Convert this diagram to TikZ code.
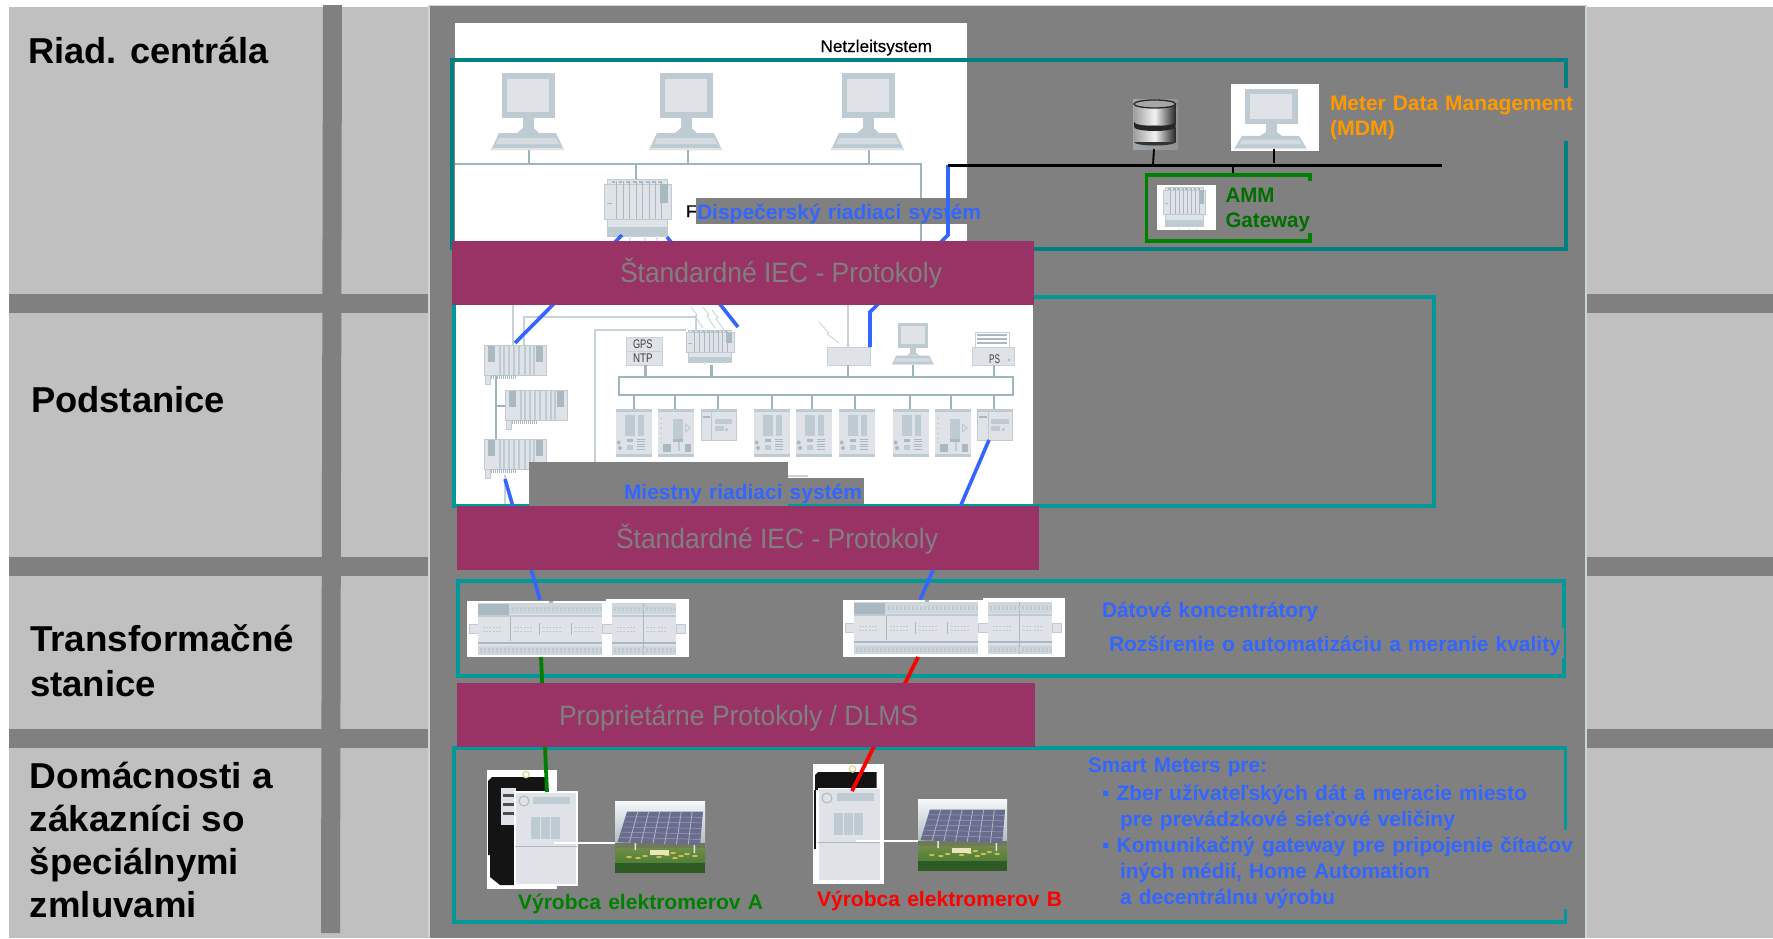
\documentclass[tikz,border=0pt]{standalone}
\usepackage{fontspec}
\usepackage{graphicx}
\setmainfont{Liberation Sans}
\newfontfamily\semifont[FakeBold=0.35]{Liberation Sans}
\usetikzlibrary{calc}
\definecolor{panelgray}{HTML}{808080}
\definecolor{sidegray}{HTML}{C0C0C0}
\definecolor{edgegray}{HTML}{CBD5D8}
\definecolor{burg}{HTML}{993366}
\definecolor{tealA}{HTML}{008080}
\definecolor{tealB}{HTML}{009999}
\definecolor{wireblue}{HTML}{3366FF}
\definecolor{wiregreen}{HTML}{008000}
\definecolor{textgreen}{HTML}{006F00}
\definecolor{mdmorange}{HTML}{FF9900}
\definecolor{devbody}{HTML}{DFE3E7}
\definecolor{devdark}{HTML}{BFCBD3}
\definecolor{devmid}{HTML}{A9B8C1}
\definecolor{netline}{HTML}{9DB6B9}
\definecolor{lightline}{HTML}{C6D2D8}
\definecolor{grassA}{HTML}{6F8C48}
\definecolor{grassB}{HTML}{4F7F35}
\definecolor{grassC}{HTML}{2F5A24}
\definecolor{treeline}{HTML}{6F7A58}
\definecolor{pvpanel}{HTML}{6A6C8E}
\definecolor{pvgrid}{HTML}{B4B8C8}
\definecolor{flower}{HTML}{C8C050}
\tikzset{
  lab/.style={anchor=base west,inner sep=0pt,outer sep=0pt},
  frameA/.style={draw=tealA,line width=3.6pt,line cap=butt,miter limit=10},
  frameB/.style={draw=tealB,line width=3.6pt,line cap=butt},
  bluewire/.style={draw=wireblue,line width=3.6pt},
  greenwire/.style={draw=wiregreen,line width=3.8pt},
  redwire/.style={draw=red,line width=3.8pt},
  blackwire/.style={draw=black,line width=3pt},
  net/.style={draw=netline,line width=2.2pt},
  lnet/.style={draw=lightline,line width=2.4pt},
  pics/pcicon/.style={code={
    \fill[devdark] (0,0) rectangle (52.5,45);
    \fill[devbody] (5,6) rectangle (47,39);
    \fill[devdark] (21,45) rectangle (31.5,57);
    \fill[devdark] (15,60) -- (21,55) -- (31.5,55) -- (37,60) -- cycle;
    \fill[devdark] (-3,60) -- (54,60) -- (62,77) -- (-11,77) -- cycle;
    \fill[devbody!70!devdark] (-3,65) -- (54,65) -- (57,71) -- (-6,71) -- cycle;
    \fill[devbody] (-10.5,75) rectangle (61.5,77);
  }},
  pics/plcicon/.style={code={
    \fill[devbody] (3,0) rectangle (63.5,57);
    \fill[devbody] (0,5) rectangle (67,40);
    \draw[devdark,line width=.8pt] (0,5) rectangle (67,40);
    \draw[devdark,line width=.8pt] (3,0) rectangle (63.5,5);
    \foreach \sx in {12,19,25,32,38,45,51,57}{\draw[devmid,line width=1pt] (\sx,2) -- (\sx,40);}
    \foreach \sx in {8,15,22,29,35,42,48,54}{\fill[devmid] (\sx,2) rectangle ++(3,2);}
    \fill[devmid] (56,5) rectangle (63.5,24);
    \fill[devdark] (3,48) rectangle (63.5,57);
    \draw[devdark,line width=.8pt] (3,40) rectangle (63.5,57);
    \draw[devmid,line width=.7pt] (3,24) -- (8,24);
    \foreach \sx in {26,41,53}{\fill[devbody] (\sx-.7,57) rectangle (\sx+.7,62);}
  }},
  pics/rackicon/.style={code={
    \fill[devbody] (0,0) rectangle (62.7,30.3);
    \foreach \sx in {15,19,24,29,34,40,45,49,53}{\fill[devdark] (\sx,0.5) rectangle ++(1.6,29.3);}
    \fill[devmid] (4,.6) rectangle (11,17);
    \fill[devmid] (51.5,.6) rectangle (58.5,17);
    \fill[devbody] (4,17) rectangle (11,30);
    \fill[devbody] (51.5,17) rectangle (58.5,30);
    \draw[devdark,line width=.8pt] (0,0) rectangle (62.7,30.3);
    \fill[devdark] (1,30.3) rectangle (6.7,39.6);
    \fill[devbody] (2,31) rectangle (5.7,39);
    \foreach \sx in {7,9,...,31}{\fill[devmid] (\sx,30.3) rectangle ++(1,3.3);}
  }},
  pics/devA/.style={code={
    \fill[devbody] (0,0) rectangle (35.6,47.7);
    \fill[devdark] (0,0) rectangle (35.6,3);
    \fill[devdark] (0,44.5) rectangle (35.6,47.7);
    \fill[devdark] (8.7,6) rectangle (19.3,27);
    \fill[devdark] (21.7,6) rectangle (28.3,27);
    \fill[devmid] (2.7,33.5) circle (2pt);
    \fill[devmid] (4,39) circle (2pt);
    \fill[devmid] (11,29.5) rectangle (17,33);
    \fill[devdark] (11,36) rectangle (17,41);
    \foreach \sy in {29.5,32,34.5,37,39.5}{\fill[devmid] (21,\sy) rectangle (29,\sy+1.2);}
  }},
  pics/devB/.style={code={
    \fill[devbody] (0,0) rectangle (35.6,47.7);
    \fill[devdark] (0,0) rectangle (35.6,3);
    \fill[devdark] (0,44.5) rectangle (35.6,47.7);
    \foreach \sy in {9,14,19,24,29,33}{\fill[devdark] (2,\sy) rectangle (4,\sy+1.2);}
    \fill[devdark] (15,10) rectangle (24.5,30);
    \fill[devmid] (15,30) rectangle (24.5,33);
    \fill[devdark] (20,33) rectangle (22,42);
    \fill[devdark] (27,14) -- (33,19) -- (27,24) -- cycle;
    \fill[devbody] (28,16.5) -- (31,19) -- (28,21.5) -- cycle;
    \fill[devmid] (4.5,35) rectangle (13,43);
    \fill[devmid] (27,35) rectangle (33,43);
  }},
  pics/devC/.style={code={
    \fill[devbody] (0,0) rectangle (35.3,31);
    \fill[devdark] (0,0) rectangle (35.3,3);
    \draw[devdark,line width=.8pt] (0,0) rectangle (35.3,31);
    \draw[devdark,line width=.8pt] (10.7,3) -- (10.7,31);
    \fill[devmid] (1.5,6.5) rectangle (9,8.5);
    \fill[devdark] (13.5,10) rectangle (31,15);
    \fill[devdark] (13.5,17) rectangle (22.5,21.5);
    \fill[devdark] (24,19) rectangle (27,21.5);
  }},
  pics/concicon/.style={code={
    \fill[devbody] (-9,21) rectangle (0,30);
    \fill[devbody] (124,21) rectangle (134,30);
    \fill[devbody] (198,21) rectangle (207,30);
    \draw[devdark,line width=.6pt] (-9,21) rectangle (0,30) (124,21) rectangle (134,30) (198,21) rectangle (207,30);
    \fill[devbody] (0,0) rectangle (124,52);
    \fill[devbody] (134,0) rectangle (198,52);
    \fill[devbody!50!devdark] (0,0) rectangle (124,11);
    \fill[devbody!50!devdark] (134,0) rectangle (198,11);
    \fill[devmid] (0,.8) rectangle (31,11.8);
    \fill[devdark] (0,11.8) rectangle (124,14);
    \fill[devdark] (134,11.8) rectangle (198,14);
    \fill[devmid] (0,38.5) rectangle (124,40.5);
    \fill[devmid] (134,38.5) rectangle (198,40.5);
    \fill[devbody!50!devdark] (0,43) rectangle (124,52);
    \fill[devbody!50!devdark] (134,43) rectangle (198,52);
    \draw[devmid,line width=.8pt] (32,14) -- (32,38) (61,20) -- (61,32) (93,20) -- (93,32) (165,0) -- (165,52);
    \foreach \sx in {5,15,36,46,65,75,97,107,139,149,169,180}{\draw[devdark,line width=1pt,dash pattern=on 2pt off 1pt] (\sx,24) -- ++(8,0) (\sx,28) -- ++(8,0);}
    \foreach \sx in {34,38,...,122,136,140,...,196}{\fill[devdark] (\sx,4) rectangle ++(1.5,4);}
    \foreach \sx in {2,6,...,122,136,140,...,196}{\fill[devdark] (\sx,45) rectangle ++(1.5,5);}
    \fill[netline] (71,-2) rectangle (75,0);
  }},
  pics/solaricon/.style={code={
    \shade[top color=white!85!devdark,bottom color=devmid] (0,0) rectangle (90,46);
    \fill[treeline] (0,42) rectangle (90,48);
    \shade[top color=grassA,bottom color=grassB] (0,47) rectangle (90,62);
    \fill[grassC] (0,62) rectangle (90,72);
    \foreach \yx/\yy in {30/55,38/53,44/56,52/54,58/52,66/55,72/53,80/55,60/57,23/57,14/56}{\fill[flower] (\yx,\yy) ellipse (2.8pt and 1.1pt);}
    \fill[white!80!olive] (34.5,49) rectangle (53.5,54);
    \fill[devbody] (19.5,40) rectangle (21,49) (78.5,43) rectangle (80,52);
    \coordinate (pa) at (12,10.7); \coordinate (pb) at (88,10.7);
    \coordinate (pc) at (85,44); \coordinate (pd) at (2.5,41.3);
    \fill[pvpanel] (pa) -- (pb) -- (pc) -- (pd) -- cycle;
    \foreach \gt in {.143,.286,.429,.571,.714,.857}{\draw[pvgrid,line width=.8pt] ($(pa)!\gt!(pb)$) -- ($(pd)!\gt!(pc)$);}
    \foreach \gt in {.167,.333,.5,.667,.833}{\draw[pvgrid!70!pvpanel,line width=.5pt] ($(pa)!\gt!(pd)$) -- ($(pb)!\gt!(pc)$);}
  }},
}
\newcommand{\T}[7]{\node[lab,text=#5,font=#6] (#1) at (#2,#3) {\resizebox{#4pt}{\height}{#7}};}
\newcommand{\FB}[1]{\fontsize{#1}{#1}\selectfont\bfseries\spaceskip=.34em\relax}
\newcommand{\FL}[1]{\fontsize{#1}{#1}\selectfont\bfseries}
\newcommand{\FR}[1]{\fontsize{#1}{#1}\selectfont}
\newcommand{\FS}[1]{\fontsize{#1}{#1}\semifont}
\begin{document}
\begin{tikzpicture}[x=1pt,y=-1pt]
\useasboundingbox (0,0) rectangle (1773,938);
\fill[white] (0,0) rectangle (1773,938);
% side columns
\fill[sidegray] (9,7) rectangle (429,938);
\fill[sidegray] (1586,7) rectangle (1773,938);
\fill[panelgray] (323,5) -- (342,5) -- (340,933) -- (321,933) -- cycle;
\foreach \by in {294,557,729}{
  \fill[panelgray] (9,\by) rectangle (428,\by+19);
  \fill[panelgray] (1587,\by) rectangle (1773,\by+19);
}
% main panel
\fill[edgegray] (428,5) rectangle (1587,938);
\fill[panelgray] (430,6) rectangle (1585,938);
% white areas
\fill[white] (455,23) rectangle (967,241);
\fill[white] (455,305) rectangle (1033,506);
\T{netz}{820.5}{52}{111.5}{black}{\FS{17}}{Netzleitsystem}
% control-centre network
\coordinate (pcA) at (529,150); \coordinate (pcB) at (688,150); \coordinate (pcC) at (869,150);
\coordinate (busW) at (455,164); \coordinate (busE) at (921,164); \coordinate (busS) at (921,241);
\coordinate (plcT) at (636,179);
\draw[net] (busW) -- (busE) -- (busS);
\foreach \c in {pcA,pcB,pcC,plcT}{\draw[net] (\c) -- (\c |- busW);}
\pic at (502,73) {pcicon};
\pic at (660,73) {pcicon};
\pic at (842,73) {pcicon};
\pic at (604,179) {plcicon};
\T{ftxt}{686}{217}{11}{black}{\FS{17}}{F}
% substation network
\draw[lnet] (513,305) -- (513,345);
\draw[lnet] (524,345) -- (524,317) -- (696,317) -- (696,330);
\draw[lnet] (595,462) -- (595,330) -- (686,330);
\draw[lnet] (848,305) -- (848,347);
\draw[lnet] (505,475) -- (505,506);
\draw[lnet] (788,476) -- (808,476);
\draw[net] (496,375) -- (496,439);
\draw[net] (496,406) -- (505,406);
\pic at (484,345) {rackicon};
\pic at (505,390) {rackicon};
\pic at (484,439) {rackicon};
\draw[lightline,line width=.8pt] (691,307) -- (697,315) -- (695,316) -- (703,328);
\draw[lightline,line width=.8pt] (703,307) -- (709,315) -- (707,316) -- (715,328);
\draw[lightline,line width=.8pt] (712,310) -- (718,318) -- (716,319) -- (724,330);
\draw[lightline,line width=.8pt] (819,322) -- (829,333) -- (827,334) -- (839,343);
% top row of the bay
\fill[devbody] (626,337) rectangle (662.5,365);
\draw[lightline,line width=.8pt] (626,337) rectangle (662.5,365) (626,351) -- (662.5,351);
\T{gps}{633}{348}{19.6}{black!75}{\FR{12.5}}{GPS}
\T{ntp}{633}{362}{19.6}{black!75}{\FR{12.5}}{NTP}
\pic[xscale=.72,yscale=.56] at (686,330) {plcicon};
\fill[devbody] (827,347) rectangle (870,365);
\draw[lightline,line width=.8pt] (827,347) rectangle (870,365);
\pic[xscale=.58,yscale=.545] at (898,323) {pcicon};
\fill[white] (975.5,332) rectangle (1009,347);
\draw[lightline,line width=.7pt] (975.5,332) rectangle (1009,347);
\foreach \py in {334,338,342}{\fill[devmid] (977,\py) rectangle (1007,\py+2);}
\fill[devbody] (972,347) rectangle (1014,365);
\draw[lightline,line width=.8pt] (972,347) rectangle (1014,365);
\fill[devmid] (1009,360) circle (1.4pt);
\T{ps}{989}{363}{11}{black!75}{\FR{12.5}}{PS}
\draw[net] (619,377) rectangle (1013,395);
\foreach \ux in {645.5,711.5,848,913,994}{\draw[net] (\ux,365) -- (\ux,377);}
\foreach \dx in {634,675,718,772,812,855,910,951,994}{\draw[net] (\dx,395) -- (\dx,409);}
\pic at (616,409) {devA};
\pic at (658,409) {devB};
\pic at (701,409) {devC};
\pic at (754,409) {devA};
\pic at (796,409) {devA};
\pic at (839,409) {devA};
\pic at (893,409) {devA};
\pic at (935,409) {devB};
\pic at (977.5,409) {devC};
% frames
\draw[frameA] (1566,88) -- (1566,60) -- (452,60) -- (452,250);
\draw[frameA] (452,249) -- (1566,249) -- (1566,141);
\draw[frameB] (454,297) rectangle (1434,506);
\draw[frameB] (458,581) rectangle (1564,676);
\draw[frameB] (1565.5,830) -- (1565.5,748) -- (454,748) -- (454,922) -- (1565.5,922) -- (1565.5,909);
\fill[panelgray] (1560.5,628) rectangle (1563.5,658);
% caption boxes
\fill[panelgray] (696,198) rectangle (967,224);
\fill[panelgray] (529,462) rectangle (788,506);
\fill[panelgray] (788,478) rectangle (864,504);
% wire ends
\coordinate (plcSW) at (622,235);  \coordinate (rackA) at (515,343);
\coordinate (plcSE) at (667,237);  \coordinate (modT)  at (738,327);
\coordinate (gwJ)   at (948,165);  \coordinate (gwK)   at (948,235);
\coordinate (swK)   at (870,312);  \coordinate (swB)   at (870,347);
\coordinate (rackC) at (505,479);  \coordinate (concA) at (540,600);
\coordinate (devN)  at (989,440);  \coordinate (concB) at (920,600);
\coordinate (concAb) at (541,657); \coordinate (meterA) at (547,792);
\coordinate (concBb) at (918,657); \coordinate (meterB) at (852,791);
\coordinate (busEnd) at (1442,165);
\draw[bluewire] (plcSW) -- (rackA);
\draw[bluewire] (plcSE) -- (modT);
\draw[bluewire] (gwJ) -- (gwK) -- (swK) -- (swB);
\draw[bluewire] (rackC) -- (concA);
\draw[bluewire] (devN) -- (concB);
% MDM
\draw[blackwire] (gwJ) -- (busEnd);
\shade[left color=devmid!70!gray,right color=gray!85] (1133,99) rectangle (1178,149);
\shade[left color=gray!75,right color=black!85,middle color=white!90!gray] (1134,104) rectangle (1175.6,124);
\shade[left color=gray!75,right color=black!85,middle color=white!90!gray] (1134,127) rectangle (1175.6,142);
\fill[gray!70!white] (1154.8,104) ellipse (20.8pt and 4pt);
\draw[black!85,line width=1.3pt] (1154.8,104) ellipse (20.8pt and 4pt);
\fill[black!85] (1134,122) arc[start angle=180,end angle=360,x radius=20.8,y radius=-4] -- (1175.6,127) arc[start angle=360,end angle=180,x radius=20.8,y radius=-4] -- cycle;
\fill[black!80] (1134,142) arc[start angle=180,end angle=360,x radius=20.8,y radius=-3.5] -- cycle;
\fill[white] (1231,84) rectangle (1319,151);
\pic[yscale=.78] at (1245,89) {pcicon};
\coordinate (dbB) at (1154,149); \coordinate (dbS) at (1153,165);
\coordinate (mdmB) at (1274,149); \coordinate (mdmS) at (1274,163);
\coordinate (amS) at (1233,165); \coordinate (amT) at (1233,175);
\draw[black,line width=1.9pt] (dbB) -- (dbS);
\draw[black,line width=1.9pt] (mdmB) -- (mdmS);
\draw[black,line width=1.9pt] (amS) -- (amT);
\draw[draw=wiregreen,line width=3.4pt] (1310,181) -- (1310,175) -- (1146.5,175) -- (1146.5,241) -- (1310,241) -- (1310,233);
\fill[white] (1157,185) rectangle (1216,230);
\pic[xscale=.64,yscale=.69] at (1163,187) {plcicon};
% concentrators
\fill[white] (467,601) rectangle (606,657);
\fill[white] (606,599) rectangle (689,657);
\fill[white] (843,600) rectangle (983,657);
\fill[white] (983,598) rectangle (1065,657);
\pic at (478,603) {concicon};
\pic at (854,602) {concicon};
% meter A
\fill[white] (487,770) rectangle (556.6,889);
\fill[black!92] (488,781) -- (492,777) -- (545,777) -- (545,855) -- (518,855) -- (518,885) -- (500,885) -- (490,877) -- (490,855) -- (488,855) -- cycle;
\draw[black!30!yellow!50!white,line width=1.2pt] (526,774.5) circle (3.2pt);
\fill[devbody] (501,788) rectangle (516,825);
\foreach \my in {794,803,812}{\fill[black!70] (503,\my) rectangle (514,\my+2.5);}
\fill[devbody] (515,792) rectangle (577,885);
\draw[white,line width=1.4pt] (515,792) rectangle (577,885);
\draw[devmid,line width=1pt] (524,801) circle (5pt);
\fill[devdark] (533,797) rectangle (570,804);
\foreach \sx in {530.5,540.5,550.5}{\fill[devdark] (\sx,817) rectangle ++(9,22);}
\draw[devmid,line width=1pt] (515,846) -- (577,846);
% meter B
\fill[white] (813,764) rectangle (884,884);
\fill[black!92] (815,775) -- (818,772) -- (876.5,772) -- (876.5,790) -- (815,790) -- cycle;
\draw[black!92,line width=1.2pt] (815,790) -- (815,849);
\draw[black!30!yellow!50!white,line width=1.2pt] (852.5,769) circle (3.2pt);
\fill[devbody] (818,788) rectangle (880,880);
\draw[white,line width=.8pt] (818,788) rectangle (880,880);
\draw[devmid,line width=1pt] (827,798) circle (5pt);
\fill[devdark] (837,793) rectangle (874,801);
\foreach \sx in {833.5,843.5,853.5}{\fill[devdark] (\sx,813) rectangle ++(9,22);}
\draw[devmid,line width=1pt] (818,842) -- (880,842);
% solar panels
\pic at (615,801) {solaricon};
\pic[xscale=.99] at (918,799) {solaricon};
\draw[white,line width=1.6pt] (554,842.7) -- (615,842.7);
\draw[white,line width=1.6pt] (856,841) -- (918,841);
% green and red wires
\draw[greenwire] (concAb) -- (meterA);
\draw[redwire] (concBb) -- (meterB);
% protocol bars
\fill[burg] (452,241) rectangle (1034,305);
\fill[burg] (457,506) rectangle (1039,570);
\fill[burg] (457,683) rectangle (1035,747);
\T{protoA}{620}{282}{322}{panelgray}{\FR{28}}{Štandardné IEC - Protokoly}
\T{protoB}{616}{548}{322}{panelgray}{\FR{28}}{Štandardné IEC - Protokoly}
\T{protoC}{559}{725}{359}{panelgray}{\FR{28}}{Proprietárne Protokoly / DLMS}
% side labels
\T{l1}{28}{63}{241}{black}{\FL{36}}{Riad. centrála}
\T{l2}{31}{412}{194}{black}{\FL{36}}{Podstanice}
\T{l3}{30}{651}{264}{black}{\FL{36}}{Transformačné}
\T{l4}{30}{696}{126}{black}{\FL{36}}{stanice}
\T{l5}{30}{788}{243}{black}{\FL{36}}{Domácnosti a}
\T{l6}{30}{831}{215}{black}{\FL{36}}{zákazníci so}
\T{l7}{30}{874}{209}{black}{\FL{36}}{špeciálnymi}
\T{l8}{30}{917}{167}{black}{\FL{36}}{zmluvami}
% captions
\T{disp}{697}{219}{284}{wireblue}{\FB{21}}{Dispečerský riadiaci systém}
\T{mies}{624}{499}{238}{wireblue}{\FB{21}}{Miestny riadiaci systém}
\T{mdm1}{1330}{110}{243}{mdmorange}{\FB{21}}{Meter Data Management}
\T{mdm2}{1330}{135}{65}{mdmorange}{\FB{21}}{(MDM)}
\T{amm1}{1225.5}{202}{49}{textgreen}{\FB{21}}{AMM}
\T{amm2}{1225.5}{227}{84.5}{textgreen}{\FB{21}}{Gateway}
\T{dat}{1102}{617}{216}{wireblue}{\FB{21}}{Dátové koncentrátory}
\T{roz}{1109}{651}{452}{wireblue}{\FB{21}}{Rozšírenie o automatizáciu a meranie kvality}
\T{smart}{1088}{772}{179}{wireblue}{\FB{21}}{Smart Meters pre:}
\T{zber}{1102}{800}{425}{wireblue}{\FB{21}}{▪ Zber užívateľských dát a meracie miesto}
\T{zber2}{1120}{826}{335}{wireblue}{\FB{21}}{pre prevádzkové sieťové veličiny}
\T{kom}{1102}{852}{471}{wireblue}{\FB{21}}{▪ Komunikačný gateway pre pripojenie čítačov}
\T{kom2}{1120}{878}{310}{wireblue}{\FB{21}}{iných médií, Home Automation}
\T{kom3}{1120}{904}{215}{wireblue}{\FB{21}}{a decentrálnu výrobu}
\T{vyrA}{518}{909}{245}{wiregreen}{\FB{21}}{Výrobca elektromerov A}
\T{vyrB}{817}{906}{245}{red}{\FB{21}}{Výrobca elektromerov B}
\end{tikzpicture}
\end{document}
